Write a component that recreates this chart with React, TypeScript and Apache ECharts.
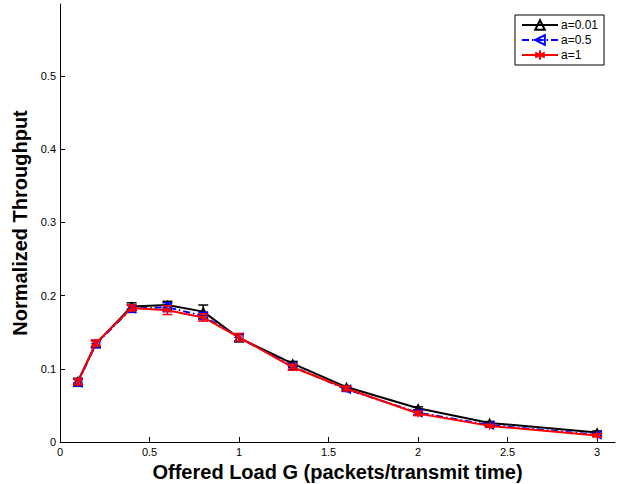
import React, { useEffect, useRef } from "react";
import * as echarts from "echarts";

const loads = [0.1, 0.2, 0.4, 0.6, 0.8, 1, 1.3, 1.6, 2, 2.4, 3];
const seriesNames = ["a=0.01", "a=0.5", "a=1"];
const thrA001 = [0.083, 0.134, 0.185, 0.187, 0.178, 0.142, 0.107, 0.075, 0.046, 0.026, 0.013];
const thrA05 = [0.081, 0.134, 0.182, 0.184, 0.172, 0.143, 0.103, 0.072, 0.040, 0.023, 0.010];
const thrA1 = [0.082, 0.135, 0.183, 0.180, 0.170, 0.143, 0.102, 0.073, 0.039, 0.022, 0.009];
const errA001 = [0.004, 0.004, 0.005, 0.005, 0.009, 0.005, 0.003, 0.002, 0.002, 0.002, 0.002];
const errA05 = [0.005, 0.005, 0.005, 0.006, 0.005, 0.005, 0.004, 0.003, 0.003, 0.002, 0.002];
const errA1 = [0.004, 0.004, 0.004, 0.006, 0.005, 0.005, 0.004, 0.003, 0.003, 0.002, 0.002];
const yTicks = [0, 0.1, 0.2, 0.3, 0.4, 0.5];
const xTicks = [0, 0.5, 1, 1.5, 2, 2.5, 3];

const colors = ["#000000", "#0000ff", "#ff0000"];
const FONT = "Liberation Sans, Arial, Helvetica, sans-serif";

function errSeries(vals: number[], errs: number[], color: string, z: number) {
  return {
    type: "custom",
    silent: true,
    z,
    data: loads.map((x, i) => [x, vals[i], errs[i]]),
    renderItem: (params: any, api: any) => {
      const x = api.value(0);
      const y = api.value(1);
      const e = api.value(2);
      const top = api.coord([x, y + e]);
      const bot = api.coord([x, y - e]);
      const cw = 5;
      const style = { stroke: color, lineWidth: 1.5 };
      return {
        type: "group",
        children: [
          { type: "line", shape: { x1: top[0], y1: top[1], x2: bot[0], y2: bot[1] }, style },
          { type: "line", shape: { x1: top[0] - cw, y1: top[1], x2: top[0] + cw, y2: top[1] }, style },
          { type: "line", shape: { x1: bot[0] - cw, y1: bot[1], x2: bot[0] + cw, y2: bot[1] }, style },
        ],
      };
    },
  };
}

export default function App() {
  const ref = useRef<HTMLDivElement>(null);
  useEffect(() => {
    document.body.style.margin = "0";
    const chart = echarts.init(ref.current!, null, { renderer: "svg" });
    const asterisk = "path://M0,-5L0,5M-4.33,-2.5L4.33,2.5M-4.33,2.5L4.33,-2.5";
    const leftTri = "path://M-5,0L4,-5L4,5Z";
    const vals = [thrA001, thrA05, thrA1];
    const errs = [errA001, errA05, errA1];
    const symbols = ["triangle", leftTri, asterisk];
    const dashes: any[] = ["solid", [7, 3, 1.5, 3], "solid"];
    const lineSeries = seriesNames.map((name, k) => ({
      type: "line",
      name,
      z: 3 + k * 2,
      data: loads.map((x, i) => [x, vals[k][i]]),
      symbol: symbols[k],
      symbolSize: 8,
      showAllSymbol: true,
      lineStyle: { color: colors[k], width: 2, type: dashes[k] },
      itemStyle: {
        color: k === 2 ? colors[k] : "rgba(255,255,255,0)",
        borderColor: colors[k],
        borderWidth: 1.2,
      },
    }));
    const errorSeries = seriesNames.map((_, k) => errSeries(vals[k], errs[k], colors[k], 4 + k * 2));
    chart.setOption({
      animation: false,
      grid: { left: 60, top: 4, right: 7, bottom: 42, containLabel: false, outerBoundsMode: "none" },
      legend: {
        data: seriesNames,
        orient: "vertical",
        left: 515,
        top: 15,
        width: 92,
        padding: [4, 6, 4, 6],
        itemGap: 3,
        itemWidth: 36,
        itemHeight: 12,
        borderColor: "#000",
        borderWidth: 1,
        backgroundColor: "#fff",
        textStyle: { fontFamily: FONT, fontSize: 12, color: "#000", padding: [0, 0, 0, -2] },
      },
      xAxis: {
        type: "value",
        min: 0,
        max: 3.1,
        interval: 0.5,
        name: "Offered Load G (packets/transmit time)",
        nameLocation: "middle",
        nameGap: 18,
        nameTextStyle: { fontFamily: FONT, fontSize: 20, fontWeight: "bold", color: "#000" },
        axisLine: { lineStyle: { color: "#000", width: 1 } },
        axisTick: { inside: true, length: 5, lineStyle: { color: "#000" } },
        axisLabel: {
          fontFamily: FONT,
          fontSize: 11,
          color: "#000",
          margin: 4,
          showMaxLabel: false,
          formatter: (v: number) => (xTicks.includes(v) ? String(v) : ""),
        },
        splitLine: { show: false },
      },
      yAxis: {
        type: "value",
        min: 0,
        max: 0.598,
        interval: 0.1,
        name: "Normalized Throughput",
        nameLocation: "middle",
        nameGap: 29,
        nameTextStyle: { fontFamily: FONT, fontSize: 20, fontWeight: "bold", color: "#000" },
        axisLine: { show: true, lineStyle: { color: "#000", width: 1 } },
        axisTick: { show: true, inside: true, length: 5, lineStyle: { color: "#000" } },
        axisLabel: {
          fontFamily: FONT,
          fontSize: 11,
          color: "#000",
          margin: 4,
          showMaxLabel: false,
          formatter: (v: number) => {
            const t = yTicks.find((y) => Math.abs(y - v) < 1e-9);
            return t === undefined ? "" : t === 0 ? "0" : t.toFixed(1);
          },
        },
        splitLine: { show: false },
      },
      series: [...errorSeries, ...lineSeries],
    });
    return () => chart.dispose();
  }, []);
  return <div ref={ref} style={{ width: 622, height: 484 }} />;
}
